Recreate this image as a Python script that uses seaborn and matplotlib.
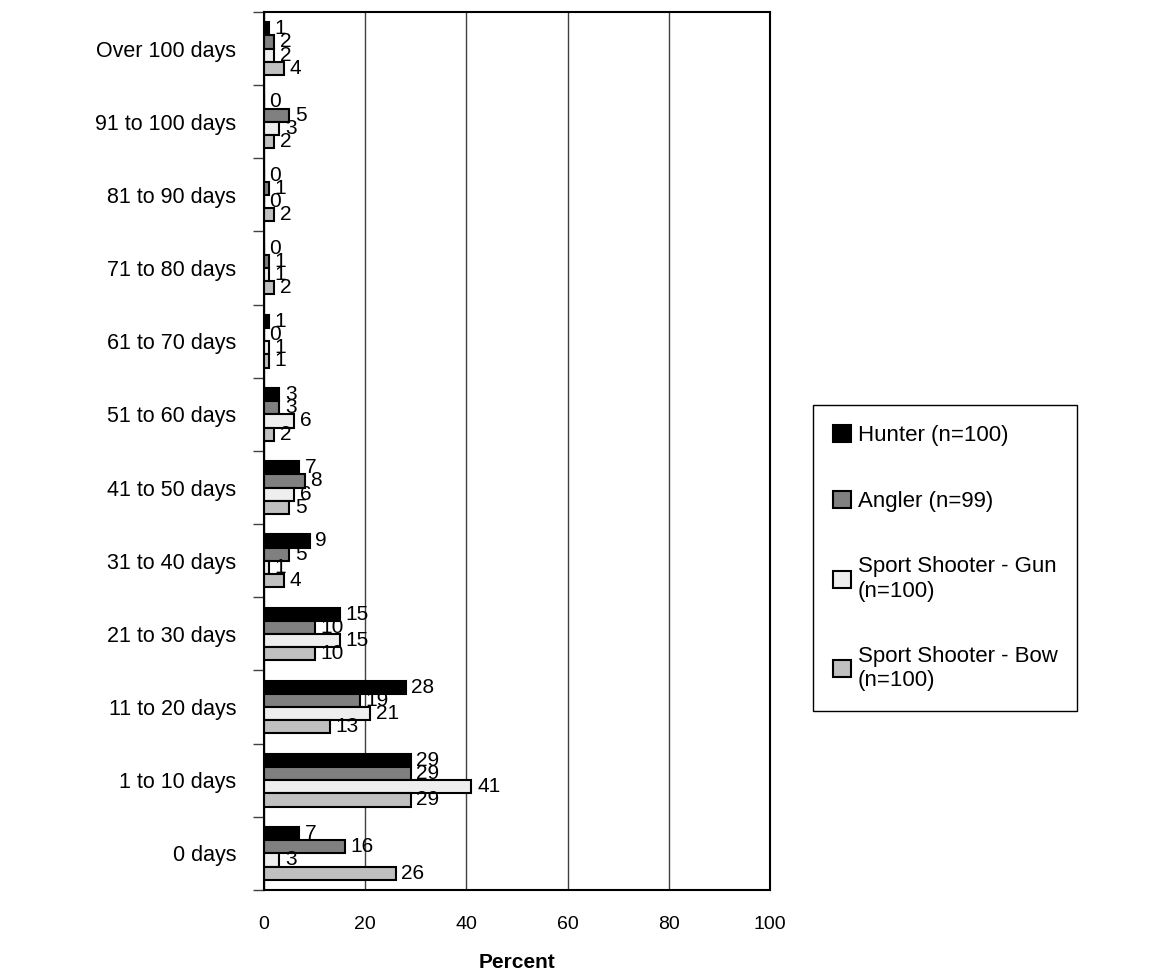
import matplotlib.pyplot as plt
import pandas as pd
import seaborn as sns
import numpy as np

# values (percent)
categories = ['Over 100 days', '91 to 100 days', '81 to 90 days', '71 to 80 days',
              '61 to 70 days', '51 to 60 days', '41 to 50 days', '31 to 40 days',
              '21 to 30 days', '11 to 20 days', '1 to 10 days', '0 days']
groups = ['Hunter (n=100)', 'Angler (n=99)',
          'Sport Shooter - Gun\n(n=100)', 'Sport Shooter - Bow\n(n=100)']
hunter = [1, 0, 0, 0, 1, 3, 7, 9, 15, 28, 29, 7]
angler = [2, 5, 1, 1, 0, 3, 8, 5, 10, 19, 29, 16]
gun = [2, 3, 0, 1, 1, 6, 6, 1, 15, 21, 41, 3]
bow = [4, 2, 2, 2, 1, 2, 5, 4, 10, 13, 29, 26]
colors = ['#000000', '#808080', '#eeeeee', '#c0c0c0']
xticks = [0, 20, 40, 60, 80, 100]

rows = []
for g, vals in zip(groups, [hunter, angler, gun, bow]):
    for c, v in zip(categories, vals):
        rows.append({'days': c, 'group': g, 'pct': v})
df = pd.DataFrame(rows)

sns.set_style('white')
plt.rcParams['font.family'] = ['Liberation Sans', 'DejaVu Sans']
plt.rcParams['text.color'] = 'black'
plt.rcParams['xtick.color'] = 'black'
plt.rcParams['ytick.color'] = 'black'
plt.rcParams['axes.labelcolor'] = 'black'

fig = plt.figure(figsize=(11.59, 9.75), dpi=100)
ax = fig.add_axes([0.2278, 0.0872, 0.4366, 0.9005])

sns.barplot(data=df, y='days', x='pct', hue='group', order=categories,
            hue_order=groups, palette=colors, edgecolor='black', linewidth=1.5,
            width=0.72, orient='h', ax=ax, legend=True)

for cont in ax.containers:
    ax.bar_label(cont, fmt='%d', padding=4, fontsize=15, color='black')

ax.set_xlim(0, 100)
ax.set_ylim(len(categories) - 0.5, -0.5)
ax.set_xticks(xticks)
ax.set_xticklabels([str(t) for t in xticks], fontsize=14)
ax.tick_params(axis='x', length=0, pad=19)
ax.set_yticks(range(len(categories)))
ax.set_yticklabels(categories, fontsize=15.5)
ax.tick_params(axis='y', which='major', length=0, pad=20)
ax.set_yticks(np.arange(-0.5, len(categories), 1), minor=True)
ax.tick_params(axis='y', which='minor', length=8, width=1, color='#404040', left=True)
ax.xaxis.grid(True, color='#404040', linewidth=1)
ax.yaxis.grid(False)
ax.set_axisbelow(True)
for s in ax.spines.values():
    s.set_visible(True)
    s.set_color('black')
    s.set_linewidth(1.5)
ax.set_ylabel('')
ax.set_xlabel('Percent', fontsize=15, fontweight='bold', labelpad=14)

h, l = ax.get_legend_handles_labels()
ax.get_legend().remove()
fig.legend(h, l, loc='upper left', bbox_to_anchor=(0.692, 0.596), fontsize=16,
           frameon=True, fancybox=False, edgecolor='black', framealpha=1,
           handlelength=0.8, handleheight=0.8, handletextpad=0.3,
           labelspacing=2.0, borderpad=0.9)

fig.savefig('out.png', dpi=100)
